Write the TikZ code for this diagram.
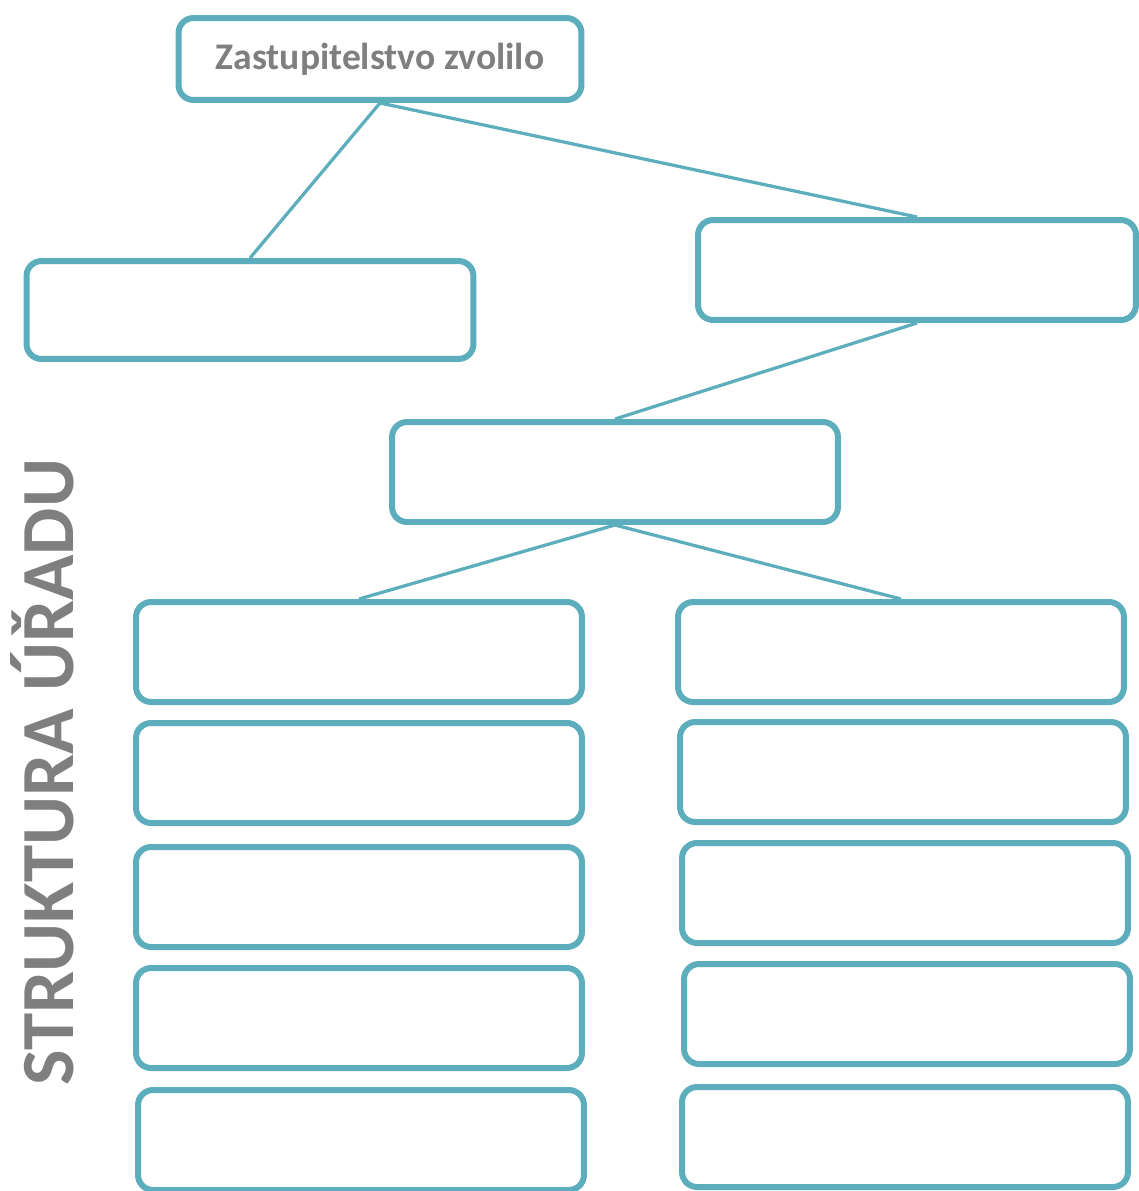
\documentclass[tikz,border=0pt]{standalone}
\usepackage{fontspec}
\setmainfont{Carlito}
\usepackage{tikz}
\definecolor{frame}{HTML}{5CAEBD}
\definecolor{label}{HTML}{7F7F7F}

\begin{document}
\begin{tikzpicture}[
x=0.02cm, y=-0.02cm,
unit/.style={
	draw=frame,
	line width=0.12cm,
	rounded corners=0.3cm,
	fill=white,
	minimum width=8.92cm,
	minimum height=2cm,
	inner sep=0pt,
	text=label,
	font=\fontsize{21.4}{25}\selectfont\bfseries
},
link/.style={
	draw=frame,
	line width=0.065cm
}
]
\useasboundingbox (0,0) rectangle (1139,1191);

% connectors first, boxes on top
\node[unit, minimum width=8.06cm, minimum height=1.64cm] at (380,59)
(council) {Zastupitelstvo zvolilo};

\node[unit, minimum width=8.94cm, minimum height=1.96cm] at (250,310)
(mayor) {};

\node[unit, minimum width=8.76cm] at (917,270)
(deputy) {};

\node[unit] at (615,472)
(office) {};

\foreach \x/\y [count=\i] in {359/652, 359/773, 359/897, 359/1018, 361/1140}
	\node[unit] at (\x,\y) (dl\i) {};

\foreach \x/\y [count=\i] in {901/652, 903/772, 905/893, 907/1014, 905/1137}
	\node[unit] at (\x,\y) (dr\i) {};

\draw[link] (council.south) -- (mayor.north);
\draw[link] (council.south) -- (deputy.north);
\draw[link] (deputy.south) -- (office.north);
\draw[link] (office.south) -- (dl1.north);
\draw[link] (office.south) -- (dr1.north);

\node[rotate=90, anchor=base, text=label,
	font=\fontsize{42.7}{51}\selectfont\bfseries] at (73,772)
(title) {STRUKTURA ÚŘADU};

\end{tikzpicture}
\end{document}
